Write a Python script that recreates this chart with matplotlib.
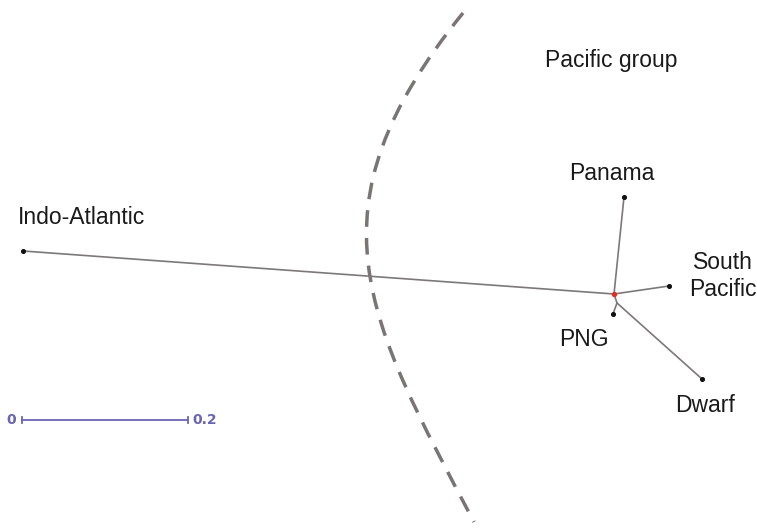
import matplotlib.pyplot as plt
from matplotlib.path import Path
from matplotlib.patches import PathPatch

plt.rcParams["font.family"] = ["Liberation Sans", "DejaVu Sans"]

# layout coordinates of the unrooted tree (x to the right, y downwards)
NODE_NAMES = ["root", "inner", "Indo-Atlantic", "Panama", "South Pacific", "PNG", "Dwarf"]
NODE_X = [614, 617, 23, 624, 669, 613, 702]
NODE_Y = [294, 303, 251, 197, 286, 314, 379]
EDGES = [("root", "Indo-Atlantic"), ("root", "Panama"), ("root", "South Pacific"),
         ("root", "inner"), ("inner", "PNG"), ("inner", "Dwarf")]
TIPS = ["Indo-Atlantic", "Panama", "South Pacific", "PNG", "Dwarf"]

LABELS = ["Indo-Atlantic", "Panama", "South\nPacific", "PNG", "Dwarf", "Pacific group"]
LABEL_X = [82, 612, 723, 584, 705, 611]
LABEL_Y = [218, 173, 276, 339, 406, 60]

SCALE_LENGTH = 0.2
SCALE_PX = 166
SCALE_START = (22, 420)

# dividing line between the two groups (cubic bezier)
DIVIDER = [(463, 13), (303, 210), (367, 319), (474, 522)]

pos = {n: (x, y) for n, x, y in zip(NODE_NAMES, NODE_X, NODE_Y)}

fig = plt.figure(figsize=(7.57, 5.28), dpi=100)
ax = fig.add_axes([0, 0, 1, 1])
ax.set_xlim(0, 757)
ax.set_ylim(528, 0)
ax.axis("off")

divider = Path(DIVIDER, [Path.MOVETO, Path.CURVE4, Path.CURVE4, Path.CURVE4])
ax.add_patch(PathPatch(divider, fill=False, edgecolor="#7a7474", lw=2.5,
                       linestyle=(0, (4.8, 3.2)), capstyle="butt"))

for a, b in EDGES:
    ax.plot([pos[a][0], pos[b][0]], [pos[a][1], pos[b][1]],
            color="#7d7878", lw=1.2, solid_capstyle="round")

ax.scatter([pos[t][0] for t in TIPS], [pos[t][1] for t in TIPS],
           s=7, color="#111111", zorder=3)
ax.scatter([pos["root"][0]], [pos["root"][1]], s=8, color="#e03020", zorder=4)

for text, x, y in zip(LABELS, LABEL_X, LABEL_Y):
    ax.text(x, y, text, fontsize=16.5, color="#1a1a1a", ha="center", va="center",
            linespacing=1.2)

# scale bar
x0, y0 = SCALE_START
x1 = x0 + SCALE_PX
bar_color = "#6a66b4"
ax.plot([x0, x1], [y0, y0], color=bar_color, lw=1.3)
ax.plot([x0, x0], [y0 - 3, y0 + 3], color=bar_color, lw=1.3)
ax.plot([x1, x1], [y0 - 3, y0 + 3], color=bar_color, lw=1.3)
ax.text(x0 - 6, y0, "0", fontsize=10, fontweight="bold", color=bar_color,
        family="DejaVu Sans", ha="right", va="center")
ax.text(x1 + 4, y0, f"{SCALE_LENGTH:g}", fontsize=10, fontweight="bold",
        color=bar_color, family="DejaVu Sans", ha="left", va="center")

fig.savefig("out.png", dpi=100)
